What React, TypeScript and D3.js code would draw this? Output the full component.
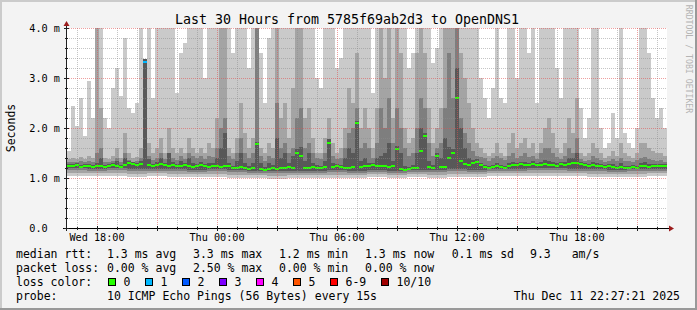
import React from "react";
import * as d3 from "d3";

// ---------- data ----------
const startTime = new Date(2025, 11, 10, 16, 30);
const endTime = new Date(2025, 11, 11, 22, 30);
const stepMinutes = 12; // one smoke column = 12 minutes

// top of the lightest smoke band (slowest ping), ms
const rttMax = [
  1.55, 2.45, 2.05, 2.6, 1.85, 2.95, 2.2, 4.2, 4.2, 2.2,
  2.0, 2.8, 3.2, 2.65, 3.8, 2.4, 2.3, 2.5, 4.2, 1.9,
  4.2, 2.6, 4.2, 4.2, 4.2, 4.2, 4.2, 2.7, 3.5, 3.7,
  4.2, 4.2, 4.2, 4.2, 3.0, 4.2, 4.2, 4.2, 4.2, 4.2,
  4.2, 3.5, 4.2, 4.2, 4.2, 3.2, 4.2, 4.2, 3.5, 2.5,
  3.8, 4.2, 4.2, 4.2, 4.2, 4.2, 4.2, 4.2, 4.2, 4.2,
  4.2, 4.2, 3.0, 2.8, 4.2, 4.2, 4.2, 3.2, 3.4, 4.2,
  4.2, 4.2, 4.2, 4.2, 4.2, 4.2, 2.7, 4.2, 4.2, 4.2,
  4.2, 4.2, 4.2, 4.2, 4.2, 3.2, 3.5, 4.2, 4.2, 4.2,
  4.2, 3.3, 3.6, 4.2, 4.2, 4.2, 4.2, 4.2, 4.2, 4.2,
  4.2, 4.2, 4.2, 3.0, 2.6, 2.2, 2.8, 4.2, 2.6, 2.5,
  4.2, 4.2, 3.0, 4.2, 4.2, 3.5, 4.2, 2.5, 4.2, 4.2,
  4.2, 4.2, 3.2, 2.6, 4.2, 4.2, 4.2, 4.2, 2.4, 1.8,
  2.2, 4.2, 4.2, 2.0, 1.6, 1.7, 2.3, 1.8, 4.2, 1.9,
  1.7, 1.6, 2.0, 4.2, 4.2, 3.5, 2.6, 2.2, 2.4, 2.0,
];
// 9th ping
const rttP9 = [
  1.38, 1.4, 1.38, 1.42, 1.38, 1.45, 1.4, 4.2, 2.4, 1.4,
  1.38, 1.45, 1.6, 1.4, 1.9, 1.5, 1.4, 1.42, 1.6, 1.6,
  1.7, 1.5, 1.6, 1.8, 1.5, 2.0, 1.6, 1.5, 1.6, 1.5,
  1.8, 1.6, 1.5, 1.6, 1.5, 1.7, 1.6, 2.2, 4.2, 4.2,
  1.6, 1.5, 1.8, 2.5, 1.9, 1.6, 1.8, 4.2, 1.6, 1.5,
  1.7, 1.6, 4.2, 2.2, 2.5, 1.8, 2.8, 4.2, 4.2, 2.2,
  2.4, 1.8, 1.5, 1.5, 1.8, 2.2, 1.7, 1.5, 1.6, 2.0,
  2.8, 2.5, 3.5, 2.0, 2.4, 2.0, 1.6, 2.4, 4.2, 3.0,
  4.2, 2.2, 4.2, 3.5, 2.0, 1.7, 1.8, 3.5, 4.2, 3.5,
  2.4, 1.7, 2.0, 2.4, 4.2, 4.2, 4.2, 4.2, 3.5, 3.0,
  2.5, 2.0, 1.7, 1.6, 1.5, 1.45, 1.5, 1.7, 1.5, 1.45,
  1.7, 1.9, 1.6, 1.7, 1.8, 1.6, 1.7, 1.5, 1.7, 2.0,
  2.2, 1.9, 1.6, 1.5, 1.7, 2.2, 1.9, 2.6, 1.5, 1.45,
  1.5, 1.7, 1.6, 1.5, 1.4, 1.45, 1.55, 1.45, 1.7, 1.5,
  1.45, 1.4, 1.5, 1.7, 1.7, 1.6, 1.55, 1.5, 1.5, 1.45,
];
// 8th ping
const rttP8 = [
  1.32, 1.33, 1.32, 1.34, 1.32, 1.35, 1.33, 1.5, 1.6, 1.33,
  1.32, 1.35, 1.4, 1.33, 1.5, 1.36, 1.33, 1.34, 1.4, 1.4,
  1.45, 1.36, 1.4, 1.5, 1.38, 1.5, 1.4, 1.36, 1.45, 1.38,
  1.5, 1.45, 1.4, 1.45, 1.38, 1.45, 1.42, 1.6, 2.0, 2.2,
  1.45, 1.38, 1.5, 1.8, 1.5, 1.4, 1.5, 4.2, 1.45, 1.35,
  1.45, 1.4, 2.5, 1.6, 1.7, 1.5, 1.6, 2.2, 2.4, 1.6,
  1.7, 1.5, 1.4, 1.38, 1.5, 1.6, 1.45, 1.38, 1.4, 1.6,
  1.9, 2.0, 2.4, 1.6, 1.7, 1.6, 1.4, 1.7, 2.4, 2.0,
  2.6, 1.7, 2.4, 2.0, 1.6, 1.45, 1.5, 2.0, 2.6, 2.4,
  1.7, 1.45, 1.6, 1.7, 2.4, 3.5, 2.6, 4.2, 2.2, 1.9,
  1.7, 1.55, 1.45, 1.42, 1.4, 1.35, 1.4, 1.45, 1.4, 1.36,
  1.45, 1.5, 1.4, 1.45, 1.5, 1.42, 1.45, 1.38, 1.5, 1.6,
  1.6, 1.5, 1.42, 1.38, 1.45, 1.6, 1.5, 1.8, 1.38, 1.34,
  1.36, 1.45, 1.4, 1.36, 1.33, 1.34, 1.38, 1.34, 1.4, 1.35,
  1.34, 1.33, 1.36, 1.4, 1.42, 1.38, 1.36, 1.35, 1.36, 1.33,
];
// 7th ping
const rttP7 = [
  1.29, 1.28, 1.3, 1.27, 1.29, 1.28, 1.26, 1.3, 1.4, 1.27,
  1.28, 1.3, 1.35, 1.27, 1.4, 1.34, 1.33, 1.31, 1.35, 3.38,
  1.38, 1.29, 1.32, 1.4, 1.31, 1.5, 1.32, 1.28, 1.35, 1.31,
  1.4, 1.3, 1.29, 1.32, 1.28, 1.3, 1.3, 1.4, 1.6, 1.9,
  1.3, 1.25, 1.35, 1.5, 1.3, 1.24, 1.3, 1.72, 1.3, 1.22,
  1.3, 1.26, 1.8, 1.4, 1.5, 1.3, 1.45, 1.58, 1.62, 1.35,
  1.5, 1.3, 1.26, 1.25, 1.35, 1.78, 1.3, 1.28, 1.27, 1.4,
  1.6, 1.5, 2.15, 1.35, 1.4, 1.3, 1.3, 1.4, 1.45, 1.5,
  1.7, 1.35, 1.65, 1.5, 1.25, 1.22, 1.26, 1.5, 2.0, 1.9,
  1.35, 1.26, 1.5, 1.4, 1.8, 1.62, 1.58, 3.2, 2.0, 1.6,
  1.4, 1.36, 1.38, 1.3, 1.27, 1.25, 1.26, 1.3, 1.27, 1.25,
  1.3, 1.32, 1.31, 1.33, 1.32, 1.31, 1.34, 1.3, 1.33, 1.36,
  1.35, 1.33, 1.3, 1.32, 1.33, 1.4, 1.4, 1.5, 1.32, 1.3,
  1.29, 1.32, 1.3, 1.29, 1.27, 1.28, 1.28, 1.25, 1.3, 1.25,
  1.24, 1.26, 1.25, 1.3, 1.32, 1.28, 1.28, 1.29, 1.28, 1.29,
];
// median rtt, ms
const rttMedian = [
  1.25, 1.24, 1.26, 1.23, 1.25, 1.24, 1.22, 1.24, 1.25, 1.23,
  1.24, 1.26, 1.25, 1.23, 1.27, 1.3, 1.29, 1.27, 1.28, 3.33,
  1.27, 1.25, 1.26, 1.28, 1.27, 1.25, 1.26, 1.24, 1.25, 1.27,
  1.24, 1.23, 1.25, 1.26, 1.24, 1.23, 1.24, 1.25, 1.22, 1.25,
  1.24, 1.2, 1.21, 1.23, 1.2, 1.19, 1.21, 1.68, 1.19, 1.17,
  1.18, 1.2, 1.19, 1.21, 1.2, 1.22, 1.21, 1.5, 1.45, 1.21,
  1.2, 1.22, 1.21, 1.2, 1.22, 1.7, 1.22, 1.24, 1.22, 1.2,
  1.21, 1.23, 2.1, 1.23, 1.25, 1.24, 1.26, 1.25, 1.24, 1.25,
  1.23, 1.24, 1.58, 1.18, 1.16, 1.18, 1.2, 1.21, 1.55, 1.85,
  1.22, 1.21, 1.45, 1.22, 1.23, 1.4, 1.5, 2.6, 1.35, 1.28,
  1.27, 1.3, 1.33, 1.26, 1.23, 1.21, 1.22, 1.24, 1.23, 1.21,
  1.24, 1.26, 1.27, 1.28, 1.26, 1.27, 1.29, 1.26, 1.27, 1.28,
  1.26, 1.27, 1.25, 1.28, 1.27, 1.28, 1.3, 1.31, 1.28, 1.26,
  1.25, 1.26, 1.24, 1.25, 1.23, 1.24, 1.23, 1.21, 1.22, 1.21,
  1.2, 1.22, 1.21, 1.24, 1.25, 1.23, 1.24, 1.25, 1.24, 1.25,
];
// lost pings out of 10 per column
const lossCount = [
  0, 0, 0, 0, 0, 0, 0, 0, 0, 0, 0, 0, 0, 0, 0, 0, 0, 0, 0, 1,
  0, 0, 0, 0, 0, 0, 0, 0, 0, 0, 0, 0, 0, 0, 0, 0, 0, 0, 0, 0,
  0, 0, 0, 0, 0, 0, 0, 0, 0, 0, 0, 0, 0, 0, 0, 0, 0, 0, 0, 0,
  0, 0, 0, 0, 0, 0, 0, 0, 0, 0, 0, 0, 0, 0, 0, 0, 0, 0, 0, 0,
  0, 0, 0, 0, 0, 0, 0, 0, 0, 0, 0, 0, 0, 0, 0, 0, 0, 0, 0, 0,
  0, 0, 0, 0, 0, 0, 0, 0, 0, 0, 0, 0, 0, 0, 0, 0, 0, 0, 0, 0,
  0, 0, 0, 0, 0, 0, 0, 0, 0, 0, 0, 0, 0, 0, 0, 0, 0, 0, 0, 0,
  0, 0, 0, 0, 0, 0, 0, 0, 0, 0,
];
// lower smoke edges, one value per hour
const rttMinHourly = [1.05, 1.04, 1.05, 1.03, 1.04, 1.03, 1.02, 1.03, 1.01, 1.0, 0.99, 1.0, 1.0, 1.01, 1.0, 1.02, 1.0, 1.02, 1.01, 1.03, 1.02, 1.04, 1.04, 1.05, 1.05, 1.04, 1.03, 1.02, 1.03, 1.04];
const rttP2Hourly = [1.11, 1.1, 1.11, 1.09, 1.1, 1.09, 1.08, 1.09, 1.07, 1.06, 1.05, 1.06, 1.06, 1.07, 1.06, 1.08, 1.06, 1.08, 1.07, 1.09, 1.08, 1.1, 1.1, 1.11, 1.11, 1.1, 1.09, 1.08, 1.09, 1.1];
const rttP3Hourly = [1.16, 1.15, 1.16, 1.15, 1.15, 1.14, 1.13, 1.14, 1.12, 1.11, 1.1, 1.11, 1.11, 1.12, 1.11, 1.13, 1.11, 1.13, 1.12, 1.14, 1.13, 1.15, 1.15, 1.16, 1.16, 1.15, 1.14, 1.13, 1.14, 1.15];
const rttP4Hourly = [1.2, 1.19, 1.2, 1.19, 1.19, 1.18, 1.17, 1.18, 1.16, 1.15, 1.14, 1.15, 1.15, 1.16, 1.15, 1.17, 1.15, 1.17, 1.16, 1.18, 1.17, 1.19, 1.19, 1.2, 1.2, 1.19, 1.18, 1.17, 1.18, 1.19];

const yTickValues = [0, 1, 2, 3, 4];
const yTickLabels = ["0.0", "1.0 m", "2.0 m", "3.0 m", "4.0 m"];
const xLabelTimes = [
  new Date(2025, 11, 10, 18, 0),
  new Date(2025, 11, 11, 0, 0),
  new Date(2025, 11, 11, 6, 0),
  new Date(2025, 11, 11, 12, 0),
  new Date(2025, 11, 11, 18, 0),
];
const xLabels = ["Wed 18:00", "Thu 00:00", "Thu 06:00", "Thu 12:00", "Thu 18:00"];

const lossLabels = ["0", "1", "2", "3", "4", "5", "6-9", "10/10"];
const lossColors = ["#26ff00", "#00b8ff", "#0059ff", "#7e00ff", "#ff00ff", "#ff5500", "#ff0000", "#a00000"];

const titleText = "Last 30 Hours from 5785f69ab2d3 to OpenDNS1";
const rttRow = ["median rtt:", "1.3 ms avg", "3.3 ms max", "1.2 ms min", "1.3 ms now", "0.1 ms sd", "9.3", "am/s"];
const lossRow = ["packet loss:", "0.00 % avg", "2.50 % max", "0.00 % min", "0.00 % now"];
const probeRow = ["probe:", "10 ICMP Echo Pings (56 Bytes) every 15s"];
const dateText = "Thu Dec 11 22:27:21 2025";

// ---------- layout ----------
const W = 697;
const H = 310;
const PL = 67, PR = 667, PT = 28, PB = 228;
const FONT = "'DejaVu Sans Mono', monospace";
const rowX = [16, 107, 193, 279, 365, 451.7, 530, 571.7];
const rowY = [258, 272, 286, 300];
const boxX = [108.5, 145.5, 182.5, 219.5, 256.5, 293.5, 330.5, 381.5];

function lossColorIndex(n: number) {
  if (n <= 5) return n;
  if (n < 10) return 6;
  return 7;
}

export default function App() {
  React.useEffect(() => {
    document.body.style.margin = "0";
  }, []);

  const x = d3.scaleTime().domain([startTime, endTime]).range([PL, PR]);
  const y = d3.scaleLinear().domain([0, 4]).range([PB, PT]);

  const colT0 = (i: number) => d3.timeMinute.offset(startTime, i * stepMinutes);
  const colT1 = (i: number) => d3.timeMinute.offset(startTime, (i + 1) * stepMinutes);
  const hourOf = (i: number) => Math.floor((i * stepMinutes) / 60);

  const bands = [
    { lo: rttMinHourly, hi: rttMax, color: "#cacaca" },
    { lo: rttP2Hourly, hi: rttP9, color: "#a4a4a4" },
    { lo: rttP3Hourly, hi: rttP8, color: "#7e7e7e" },
    { lo: rttP4Hourly, hi: rttP7, color: "#585858" },
  ];

  const hours = d3.timeHour.range(startTime, endTime);
  const minorHours = hours.filter((h) => h.getHours() % 3 !== 0);
  const majorHours = hours.filter((h) => h.getHours() % 3 === 0);
  const minorY = d3.range(1, 20).map((k) => k * 0.2).filter((v) => Math.abs(v - Math.round(v)) > 0.01);

  const gridMinor = "rgba(140,140,140,0.5)";
  const gridMajor = "rgba(224,80,80,0.55)";

  return (
    <svg
      width={W}
      height={H}
      viewBox={`0 0 ${W} ${H}`}
      style={{ position: "absolute", left: 0, top: 0, display: "block" }}
      fontFamily={FONT}
    >
      <defs>
        <clipPath id="plotclip">
          <rect x={PL} y={PT} width={PR - PL} height={PB - PT} />
        </clipPath>
      </defs>
      {/* background + 3d frame */}
      <rect x={0} y={0} width={W} height={H} fill="#f3f3f3" />
      <rect x={0} y={0} width={W} height={2} fill="#cbcbcb" />
      <rect x={0} y={0} width={2} height={H} fill="#cbcbcb" />
      <rect x={0} y={H - 2} width={W} height={2} fill="#999999" />
      <rect x={W - 2} y={0} width={2} height={H} fill="#999999" />

      {/* canvas */}
      <rect x={PL} y={PT} width={PR - PL} height={PB - PT} fill="#ffffff" />

      {/* smoke */}
      <g clipPath="url(#plotclip)" shapeRendering="crispEdges">
        {bands.map((b, bi) => (
          <g key={bi} fill={b.color}>
            {b.hi.map((hi, i) => {
              const lo = b.lo[hourOf(i)];
              const x0 = x(colT0(i));
              const x1 = x(colT1(i));
              return <rect key={i} x={x0} width={x1 - x0} y={y(hi)} height={Math.max(0, y(lo) - y(hi))} />;
            })}
          </g>
        ))}
        {rttMedian.map((m, i) => {
          const x0 = x(colT0(i));
          const x1 = x(colT1(i));
          return (
            <rect
              key={i}
              x={x0}
              width={x1 - x0}
              y={y(m) - 1}
              height={2}
              fill={lossColors[lossColorIndex(lossCount[i])]}
            />
          );
        })}
      </g>

      {/* grid */}
      <g strokeDasharray="1,1" strokeWidth={1} shapeRendering="crispEdges">
        {minorY.map((v) => (
          <line key={"my" + v} x1={PL} x2={PR} y1={Math.round(y(v)) + 0.5} y2={Math.round(y(v)) + 0.5} stroke={gridMinor} />
        ))}
        {minorHours.map((h) => (
          <line key={"mx" + +h} x1={Math.round(x(h)) + 0.5} x2={Math.round(x(h)) + 0.5} y1={PT} y2={PB} stroke={gridMinor} />
        ))}
        {yTickValues.filter((v) => v > 0).map((v) => (
          <line key={"My" + v} x1={PL} x2={PR} y1={Math.round(y(v)) + 0.5} y2={Math.round(y(v)) + 0.5} stroke={gridMajor} />
        ))}
        {majorHours.map((h) => (
          <line key={"Mx" + +h} x1={Math.round(x(h)) + 0.5} x2={Math.round(x(h)) + 0.5} y1={PT} y2={PB} stroke={gridMajor} />
        ))}
      </g>

      {/* axes */}
      <g shapeRendering="crispEdges">
        <line x1={PL - 0.5} x2={PL - 0.5} y1={PB + 3} y2={PT - 4} stroke="#202020" />
        <line x1={PL - 4} x2={PR + 4} y1={PB + 0.5} y2={PB + 0.5} stroke="#000000" />
        {yTickValues.map((v) => (
          <line key={"yt" + v} x1={PL - 3} x2={PL + 2} y1={Math.round(y(v)) + 0.5} y2={Math.round(y(v)) + 0.5} stroke="#202020" />
        ))}
        {minorY.map((v) => (
          <line key={"ytm" + v} x1={PL - 2} x2={PL + 1} y1={Math.round(y(v)) + 0.5} y2={Math.round(y(v)) + 0.5} stroke="#202020" />
        ))}
        {majorHours.map((h) => (
          <line key={"xt" + +h} x1={Math.round(x(h)) + 0.5} x2={Math.round(x(h)) + 0.5} y1={PB - 2} y2={PB + 3} stroke="#202020" />
        ))}
        {minorHours.map((h) => (
          <line key={"xtm" + +h} x1={Math.round(x(h)) + 0.5} x2={Math.round(x(h)) + 0.5} y1={PB - 1} y2={PB + 2} stroke="#202020" />
        ))}
      </g>
      <path d={`M${PL - 0.5},${PT - 7} L${PL - 3.5},${PT - 2} L${PL + 2.5},${PT - 2} Z`} fill="#9b1c1c" />
      <path d={`M${PR + 7},${PB + 0.5} L${PR + 2},${PB - 2.5} L${PR + 2},${PB + 3.5} Z`} fill="#9b1c1c" />

      {/* axis labels */}
      <g fontSize={10.2} fill="#000">
        {yTickValues.map((v, k) => (
          <text key={"yl" + v} x={29.3} y={y(v) + 3.7}>
            {yTickLabels[k]}
          </text>
        ))}
        {xLabelTimes.map((t, k) => (
          <text key={"xl" + k} x={x(t)} y={241} textAnchor="middle">
            {xLabels[k]}
          </text>
        ))}
      </g>

      {/* title */}
      <text x={347} y={24} fontSize={13.3} textAnchor="middle" fill="#000">
        {titleText}
      </text>
      <text transform={`translate(15.2,${(PT + PB) / 2}) rotate(-90)`} fontSize={11.5} textAnchor="middle" fill="#000">
        Seconds
      </text>
      <text
        transform={`translate(686,${59}) rotate(90)`}
        fontSize={8.2}
        textAnchor="middle"
        fill="#b4b4b4"
      >
        RRDTOOL / TOBI OETIKER
      </text>

      {/* legend */}
      <g fontSize={11.5} fill="#000">
        {rttRow.map((s, k) => (
          <text key={"r" + k} x={rowX[k]} y={rowY[0]}>
            {s}
          </text>
        ))}
        {lossRow.map((s, k) => (
          <text key={"l" + k} x={rowX[k]} y={rowY[1]}>
            {s}
          </text>
        ))}
        <text x={rowX[0]} y={rowY[2]}>loss color:</text>
        {lossLabels.map((s, k) => (
          <g key={"lc" + k}>
            <rect x={boxX[k]} y={rowY[2] - 7.5} width={7} height={7} fill={lossColors[k]} stroke="#000" strokeWidth={1} shapeRendering="crispEdges" />
            <text x={boxX[k] + 15} y={rowY[2]}>
              {s}
            </text>
          </g>
        ))}
        {probeRow.map((s, k) => (
          <text key={"p" + k} x={rowX[k]} y={rowY[3]}>
            {s}
          </text>
        ))}
        <text x={680} y={rowY[3]} textAnchor="end">
          {dateText}
        </text>
      </g>
    </svg>
  );
}
